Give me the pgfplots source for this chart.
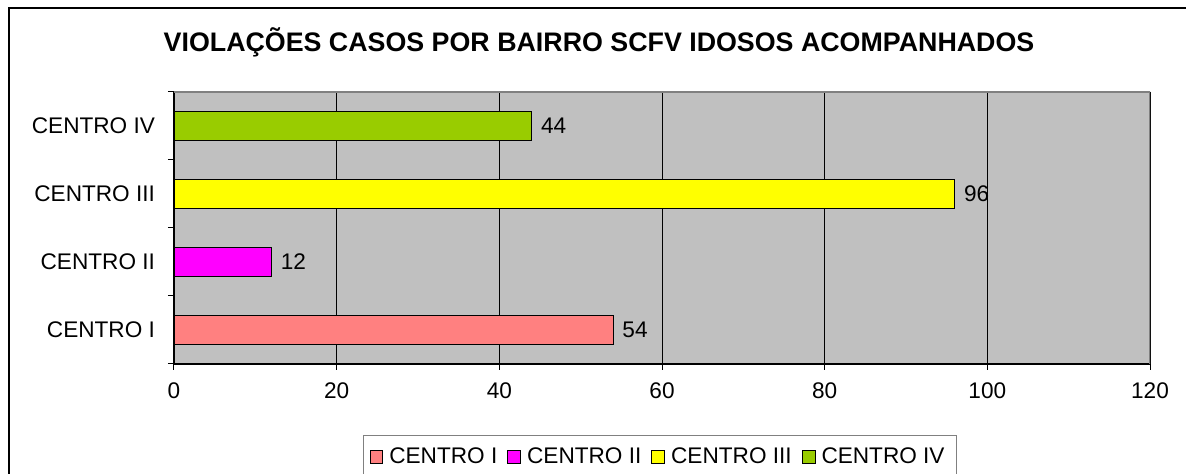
\documentclass[border=0pt]{standalone}
\usepackage{fontspec}
\setmainfont{Liberation Sans}
\usepackage{pgfplots}
\pgfplotsset{compat=1.18}
\definecolor{plotbg}{HTML}{C0C0C0}
\definecolor{cI}{HTML}{FF8080}
\definecolor{cII}{HTML}{FF00FF}
\definecolor{cIII}{HTML}{FFFF00}
\definecolor{cIV}{HTML}{99CC00}
\definecolor{bordergray}{HTML}{808080}
\newcommand{\lblfont}{\fontsize{11.3}{13}\selectfont}
\begin{document}
\begin{tikzpicture}
\useasboundingbox (-87pt,-55pt) rectangle (506pt,182pt);
\draw[black, line width=1pt] (-82.5pt,178pt) rectangle (530pt,-80pt);
\begin{axis}[
  at={(0pt,0pt)}, anchor=south west,
  scale only axis, width=488pt, height=136pt,
  xmin=0, xmax=120, ymin=-0.5, ymax=3.5,
  axis x line*=bottom, axis y line*=left,
  axis line style={black, line width=0.6pt},
  axis background/.style={fill=plotbg},
  xtick={0,20,...,120},
  ytick={0,1,2,3},
  yticklabels={CENTRO I, CENTRO II, CENTRO III, CENTRO IV},
  minor ytick={-0.5,0.5,1.5,2.5,3.5},
  tick align=outside,
  major tick length=3pt, minor tick length=3pt,
  tick style={black, line width=0.5pt},
  major y tick style={draw=none},
  minor y tick style={black, line width=0.5pt},
  xmajorgrids, grid style={black, line width=0.5pt},
  ticklabel style={font=\lblfont},
  /pgf/number format/assume math mode=true,
  xticklabel style={yshift=-3pt},
  yticklabel style={xshift=-3pt},
  nodes near coords, point meta=x,
  every node near coord/.append style={font=\lblfont, anchor=west, xshift=1pt, black},
  legend columns=4,
  legend style={at={(0.498,-0.261)}, anchor=north, draw=bordergray, line width=0.6pt,
    font=\lblfont, inner xsep=3pt, inner ysep=4pt,
    /tikz/every even column/.append style={column sep=2pt},
    nodes={inner xsep=3pt}},
  legend image code/.code={\draw[#1, draw=black, line width=0.5pt] (0pt,-3.2pt) rectangle (6.4pt,3.2pt);},
]
\addplot[xbar, bar width=14.5pt, bar shift=0pt, fill=cI, draw=black, line width=0.6pt] coordinates {(54,0)};
\addplot[xbar, bar width=14.5pt, bar shift=0pt, fill=cII, draw=black, line width=0.6pt] coordinates {(12,1)};
\addplot[xbar, bar width=14.5pt, bar shift=0pt, fill=cIII, draw=black, line width=0.6pt] coordinates {(96,2)};
\addplot[xbar, bar width=14.5pt, bar shift=0pt, fill=cIV, draw=black, line width=0.6pt] coordinates {(44,3)};
\legend{CENTRO I, CENTRO II, CENTRO III, CENTRO IV}
\draw[bordergray, line width=0.8pt] (rel axis cs:0,1) -- (rel axis cs:1,1) -- (rel axis cs:1,0);
\end{axis}
\node[anchor=base, font=\bfseries\fontsize{13.4}{16}\selectfont] at (212.5pt,156pt) {VIOLAÇÕES CASOS POR BAIRRO SCFV IDOSOS ACOMPANHADOS};
\end{tikzpicture}
\end{document}
